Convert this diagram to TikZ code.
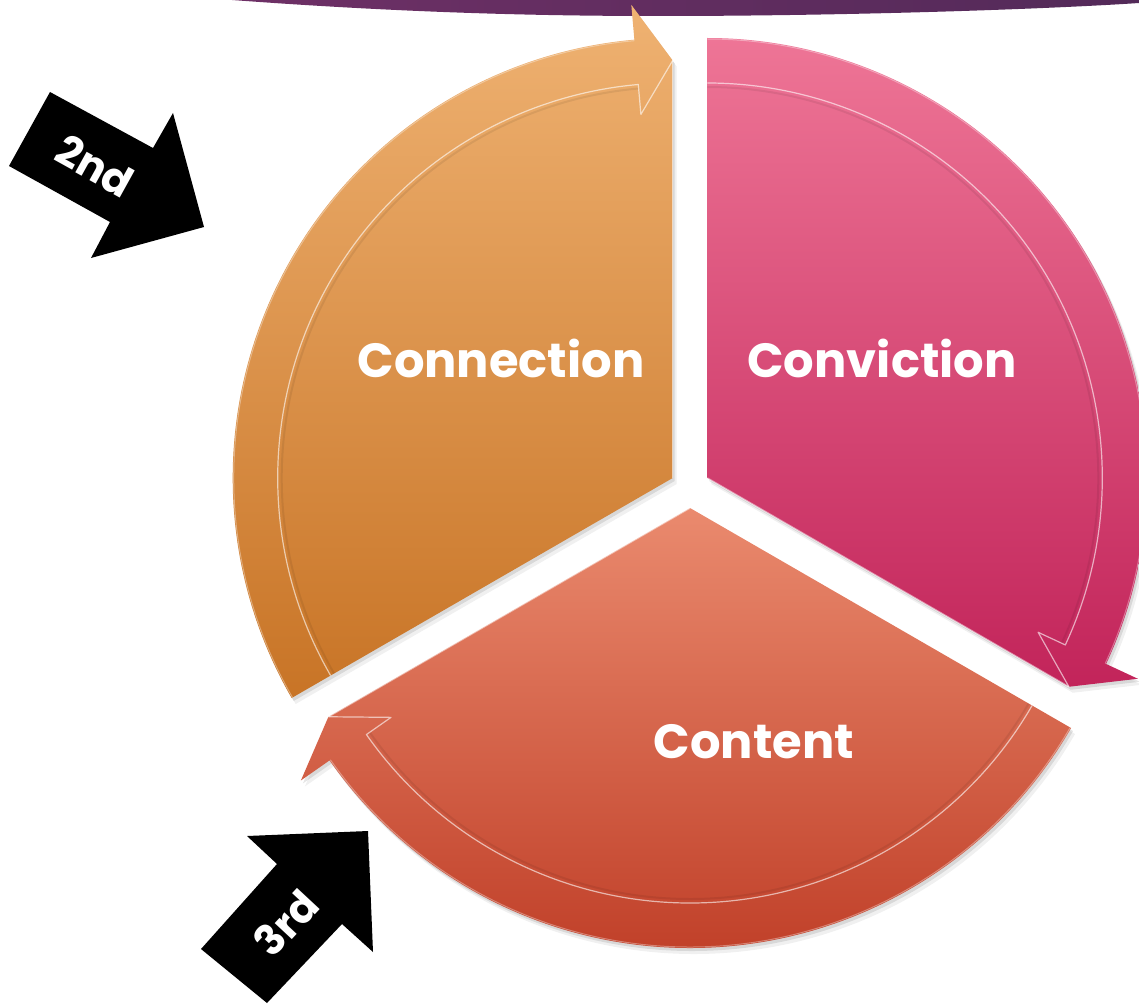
\documentclass[tikz,border=0pt]{standalone}
\usepackage{fontspec}
\setmainfont{Poppins}
\definecolor{purL}{HTML}{6E3066}
\definecolor{purR}{HTML}{532A59}
\definecolor{orTop}{HTML}{EFB272}
\definecolor{orBot}{HTML}{C87426}
\definecolor{pkTop}{HTML}{EE7596}
\definecolor{pkBot}{HTML}{C2245A}
\definecolor{ctTop}{HTML}{EA8A6E}
\definecolor{ctBot}{HTML}{C1412A}
\newcommand\segoutline[2]{(0,0) -- (#1:440) arc[start angle=#1, end angle=#2+5, radius=440] -- (#2+5:475) -- (#2:417.5) -- cycle}
\newcommand\drawseg[6]{%
  \begin{scope}[shift={(#1,#2)}]
    \begin{scope}[shift={(4,-6)}]
      \fill[black, opacity=0.06] \segoutline{#3}{#4};
    \end{scope}
    \begin{scope}[shift={(2,-3)}]
      \fill[black, opacity=0.10] \segoutline{#3}{#4};
    \end{scope}
    \shade[top color=#5, bottom color=#6] \segoutline{#3}{#4};
    \draw[black, opacity=0.07, line width=2pt] (#3:391) arc[start angle=#3, end angle=#4+5, radius=391];
    \draw[white, opacity=0.6, line width=1.2pt, line join=round] (#3:395) arc[start angle=#3, end angle=#4+5, radius=395] -- (#4+5:365) -- (#4:417.5);
    \draw[white, opacity=0.5, line width=1.5pt] (0,0) -- (#4:417.5);
    \draw[white, opacity=0.35, line width=1pt] (#3:439) arc[start angle=#3, end angle=#4+5, radius=439];
  \end{scope}}
\begin{document}
\begin{tikzpicture}[x=1pt,y=1pt,
  seglabel/.style={text=white, font=\bfseries\fontsize{48}{54}\selectfont},
  tag/.style={text=white, font=\bfseries\fontsize{42}{44}\selectfont, inner sep=0pt},
  blockarrow/.style={fill=black}]
\useasboundingbox (0,0) rectangle (1139,-1006);
\clip (0,0) rectangle (1139,-1006);
% top purple band
\shade[left color=purL, right color=purR] (232,0) .. controls (420,-14) and (560,-16) .. (660,-16) .. controls (850,-16) and (1050,-9) .. (1139,-3) -- (1139,0) -- cycle;
% segments
\drawseg{672.7}{-478}{210}{90}{orTop}{orBot}
\drawseg{707.3}{-478}{90}{-30}{pkTop}{pkBot}
\drawseg{690}{-508}{330}{210}{ctTop}{ctBot}
% labels
\node[seglabel] (connection) at (501,-358) {Connection};
\node[seglabel] (conviction) at (882,-358) {Conviction};
\node[seglabel] (content) at (754,-742) {Content};
% black block arrows
\fill[blockarrow] (50,-92) -- (153,-148) -- (173,-113) -- (204,-227) -- (91,-258) -- (110,-222) -- (9,-166) -- cycle;
\node[tag, rotate=-29] (second) at (95,-166) {2nd};
\fill[blockarrow] (247,-836) -- (368,-831) -- (373,-952) -- (342,-924) -- (267,-1003) -- (201,-949) -- (277,-864) -- cycle;
\node[tag, rotate=47] (third) at (286,-923) {3rd};
\end{tikzpicture}
\end{document}
